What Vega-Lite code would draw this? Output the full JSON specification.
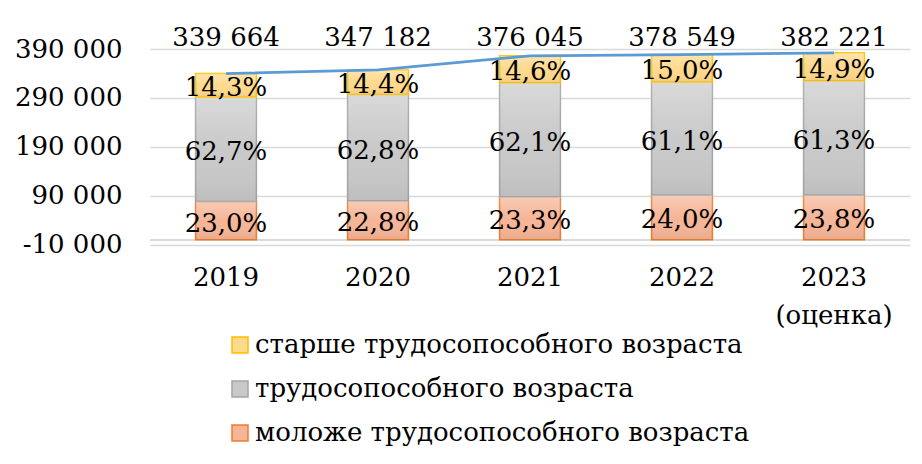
{
  "$schema": "https://vega.github.io/schema/vega-lite/v6.json",
  "width": 760,
  "height": 195.6,
  "autosize": {"type": "none"},
  "padding": {"left": 150, "top": 49, "right": 12, "bottom": 219.4},
  "background": "white",
  "config": {
    "locale": {"number": {"decimal": ",", "thousands": " ", "grouping": [3], "currency": ["", ""], "minus": "-"}},
    "view": {"stroke": null},
    "font": "DejaVu Serif",
    "text": {"font": "DejaVu Serif"}
  },
  "datasets": {
    "segments": [
      {"year": "2019", "group": "моложе трудосопособного возраста", "ord": 1, "value": 78123, "pct": 0.230},
      {"year": "2019", "group": "трудосопособного возраста", "ord": 2, "value": 212969, "pct": 0.627},
      {"year": "2019", "group": "старше трудосопособного возраста", "ord": 3, "value": 48572, "pct": 0.143},
      {"year": "2020", "group": "моложе трудосопособного возраста", "ord": 1, "value": 79157, "pct": 0.228},
      {"year": "2020", "group": "трудосопособного возраста", "ord": 2, "value": 218030, "pct": 0.628},
      {"year": "2020", "group": "старше трудосопособного возраста", "ord": 3, "value": 49994, "pct": 0.144},
      {"year": "2021", "group": "моложе трудосопособного возраста", "ord": 1, "value": 87618, "pct": 0.233},
      {"year": "2021", "group": "трудосопособного возраста", "ord": 2, "value": 233524, "pct": 0.621},
      {"year": "2021", "group": "старше трудосопособного возраста", "ord": 3, "value": 54903, "pct": 0.146},
      {"year": "2022", "group": "моложе трудосопособного возраста", "ord": 1, "value": 90852, "pct": 0.240},
      {"year": "2022", "group": "трудосопособного возраста", "ord": 2, "value": 231293, "pct": 0.611},
      {"year": "2022", "group": "старше трудосопособного возраста", "ord": 3, "value": 56782, "pct": 0.150},
      {"year": "2023 (оценка)", "group": "моложе трудосопособного возраста", "ord": 1, "value": 90969, "pct": 0.238},
      {"year": "2023 (оценка)", "group": "трудосопособного возраста", "ord": 2, "value": 234301, "pct": 0.613},
      {"year": "2023 (оценка)", "group": "старше трудосопособного возраста", "ord": 3, "value": 56951, "pct": 0.149}
    ],
    "totals": [
      {"year": "2019", "total": 339664},
      {"year": "2020", "total": 347182},
      {"year": "2021", "total": 376045},
      {"year": "2022", "total": 378549},
      {"year": "2023 (оценка)", "total": 382221}
    ]
  },
  "encoding": {
    "x": {
      "field": "year", "type": "nominal", "sort": null,
      "scale": {"paddingInner": 0.6, "paddingOuter": 0.3},
      "axis": {
        "title": null, "domain": false, "ticks": false,
        "labelAngle": 0, "labelFontSize": 26, "labelColor": "#000000",
        "labelFont": "DejaVu Serif", "labelPadding": 20, "labelBaseline": "top",
        "labelLineHeight": 38,
        "labelExpr": "split(datum.value, ' ')"
      }
    }
  },
  "layer": [
    {
      "data": {"name": "totals"},
      "mark": {"type": "rule", "color": "#d9d9d9", "strokeWidth": 1.5},
      "encoding": {
        "x": null,
        "y": {
          "datum": 0, "type": "quantitative",
          "scale": {"domain": [-10000, 390000], "nice": false, "zero": false},
          "axis": {
            "title": null, "domain": false, "ticks": false,
            "values": [-10000, 90000, 190000, 290000, 390000],
            "format": ",d",
            "labelFontSize": 26, "labelColor": "#000000", "labelFont": "DejaVu Serif",
            "labelPadding": 28,
            "grid": true, "gridColor": "#d9d9d9", "gridWidth": 1.3
          }
        }
      }
    },
    {
      "data": {"name": "segments"},
      "transform": [
        {"stack": "value", "groupby": ["year"], "sort": [{"field": "ord", "order": "ascending"}], "as": ["v0", "v1"]}
      ],
      "mark": {"type": "bar", "strokeWidth": 1.5},
      "encoding": {
        "y": {"field": "v0", "type": "quantitative"},
        "y2": {"field": "v1"},
        "color": {
          "field": "group", "type": "nominal",
          "scale": {
            "domain": ["старше трудосопособного возраста", "трудосопособного возраста", "моложе трудосопособного возраста"],
            "range": ["#ffd98c", "#c9c9c9", "#f6b597"]
          },
          "legend": {
            "orient": "none", "legendX": 77, "legendY": 283, "title": null,
            "symbolType": "square", "symbolSize": 256, "symbolStrokeWidth": 1.5,
            "labelFontSize": 26, "labelFont": "DejaVu Serif", "labelColor": "#000000",
            "rowPadding": 18, "labelOffset": 2, "padding": 0, "labelLimit": 600
          }
        },
        "stroke": {
          "field": "group", "type": "nominal",
          "scale": {
            "domain": ["старше трудосопособного возраста", "трудосопособного возраста", "моложе трудосопособного возраста"],
            "range": ["#ffc000", "#a5a5a5", "#ed7d31"]
          },
          "legend": {
            "orient": "none", "legendX": 77, "legendY": 283, "title": null,
            "symbolType": "square", "symbolSize": 256, "symbolStrokeWidth": 1.5,
            "labelFontSize": 26, "labelFont": "DejaVu Serif", "labelColor": "#000000",
            "rowPadding": 18, "labelOffset": 2, "padding": 0, "labelLimit": 600
          }
        }
      }
    },
    {
      "data": {"name": "segments"},
      "transform": [
        {"stack": "value", "groupby": ["year"], "sort": [{"field": "ord", "order": "ascending"}], "as": ["v0", "v1"]}
      ],
      "mark": {
        "type": "bar",
        "fill": {
          "gradient": "linear", "x1": 0, "y1": 0, "x2": 0, "y2": 1,
          "stops": [
            {"offset": 0, "color": "rgba(255,255,255,0.3)"},
            {"offset": 0.5, "color": "rgba(255,255,255,0)"},
            {"offset": 1, "color": "rgba(0,0,0,0.06)"}
          ]
        },
        "stroke": null
      },
      "encoding": {
        "y": {"field": "v0", "type": "quantitative"},
        "y2": {"field": "v1"}
      }
    },
    {
      "data": {"name": "segments"},
      "transform": [
        {"stack": "value", "groupby": ["year"], "sort": [{"field": "ord", "order": "ascending"}], "as": ["v0", "v1"]},
        {"calculate": "(datum.v0 + datum.v1) / 2", "as": "mid"}
      ],
      "mark": {"type": "text", "fontSize": 26, "font": "DejaVu Serif", "color": "#000000", "baseline": "middle", "dy": 3},
      "encoding": {
        "y": {"field": "mid", "type": "quantitative"},
        "text": {"field": "pct", "type": "quantitative", "format": ".1%"}
      }
    },
    {
      "data": {"name": "totals"},
      "mark": {"type": "line", "color": "#5b9bd5", "strokeWidth": 2.75},
      "encoding": {
        "y": {"field": "total", "type": "quantitative"}
      }
    },
    {
      "data": {"name": "totals"},
      "mark": {"type": "text", "fontSize": 26, "font": "DejaVu Serif", "color": "#000000", "baseline": "middle"},
      "encoding": {
        "y": {"datum": 413500, "type": "quantitative"},
        "text": {"field": "total", "type": "quantitative", "format": ",d"}
      }
    }
  ]
}
